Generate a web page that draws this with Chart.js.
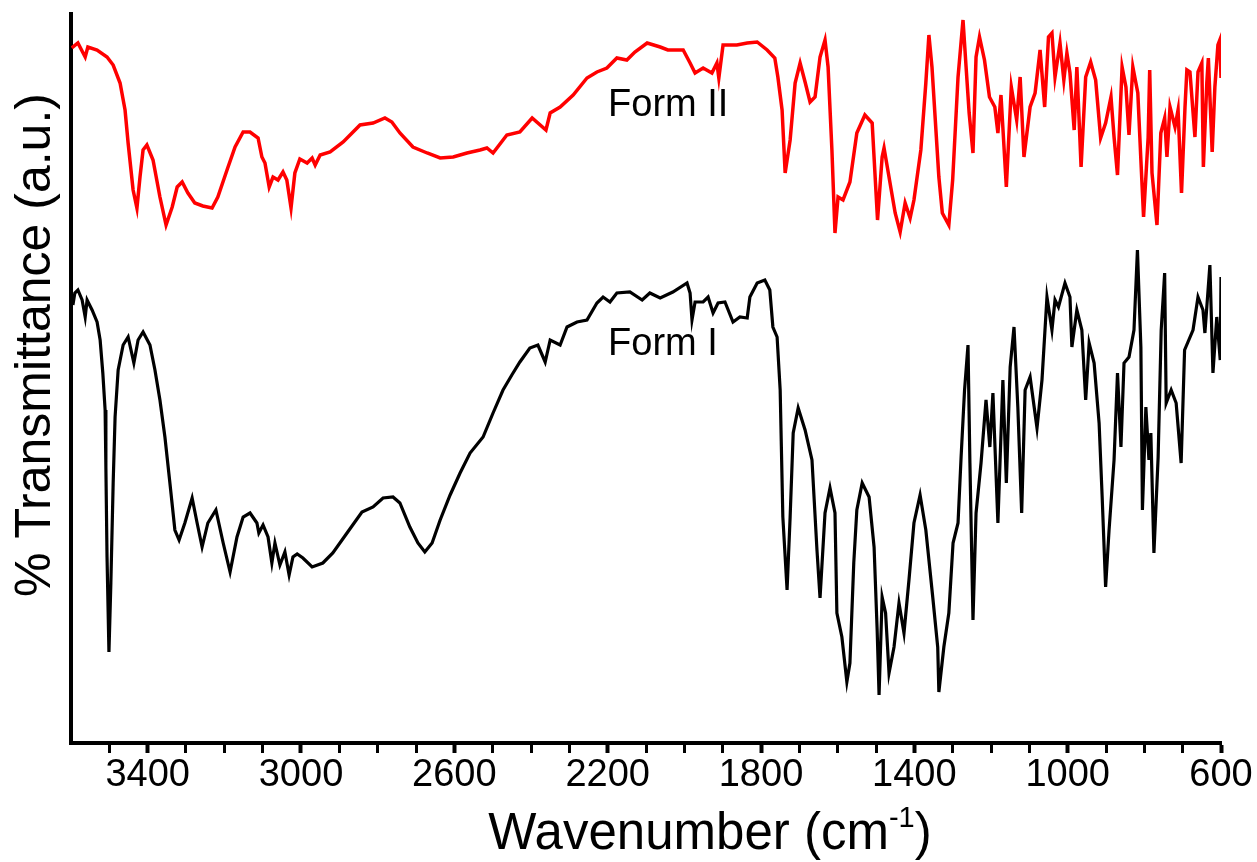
<!DOCTYPE html>
<html>
<head>
<meta charset="utf-8">
<script src="https://cdn.jsdelivr.net/npm/chart.js@4.4.1/dist/chart.umd.min.js"></script>
<style>
  html, body { margin: 0; padding: 0; background: #fff; }
</style>
</head>
<body>
<canvas id="ftirChart" width="1257" height="862"></canvas>
<script>
/* ─── DATA ────────────────────────────────────────────────── */
// Form II (red), wavenumber (cm-1) and transmittance (a.u.)
const form2Wn = [
  3598,3582,3563,3556,3532,3506,3490,3472,3459,3451,3438,3428,3420,3412,3402,3386,3368,3352,3336,3323,
  3310,3295,3277,3256,3232,3217,3193,3172,3151,3133,3112,3102,3094,3083,3073,3060,3047,3037,3026,3016,
  3003,2984,2971,2963,2950,2924,2890,2846,2812,2781,2763,2742,2708,2671,2637,2603,2567,2533,2515,2499,
  2463,2429,2397,2361,2350,2324,2290,2254,2228,2202,2176,2150,2129,2097,2063,2043,2003,1985,1972,1951,
  1928,1915,1910,1899,1863,1836,1810,1784,1764,1756,1745,1737,1724,1711,1698,1685,1672,1659,1646,1633,
  1625,1615,1607,1599,1586,1568,1550,1529,1510,1496,1484,1479,1450,1437,1424,1411,1401,1383,1370,1362,
  1354,1336,1327,1310,1300,1286,1273,1265,1257,1247,1239,1230,1217,1204,1190,1182,1174,1160,1147,1133,
  1124,1114,1098,1085,1072,1060,1050,1041,1033,1020,1010,1002,994,983,976,965,953,940,927,914,
  901,887,879,870,858,848,840,830,817,809,802,790,786,780,767,757,747,741,733,720,
  712,703,694,689,681,668,660,650,646,637,633,623,616,608,603,600
];
const form2T = [
  695,700,686,696,693,686,678,660,633,600,553,535,566,593,598,583,546,518,536,556,
  561,550,540,537,535,546,573,596,611,611,605,586,580,556,566,563,571,563,535,570,
  584,580,585,578,588,591,601,618,620,625,621,610,596,590,585,586,590,593,595,590,
  608,611,625,613,630,636,648,665,671,675,685,683,691,700,696,693,693,680,670,675,
  670,680,665,698,698,700,701,693,685,666,633,570,603,660,680,661,641,646,686,703,
  676,593,510,546,543,561,610,628,620,523,586,595,530,511,540,525,543,593,660,708,
  676,566,530,518,563,666,723,676,630,590,686,706,683,646,636,610,648,556,656,623,
  666,586,636,650,693,636,706,710,666,700,663,690,670,613,676,576,666,681,663,605,
  620,646,606,568,676,656,608,676,650,583,526,606,673,570,518,610,625,586,636,616,
  633,550,635,673,671,606,671,680,576,660,685,591,656,698,703,665
];

// Form I (black)
const form1Wn = [
  3595,3590,3582,3571,3563,3558,3545,3532,3524,3517,3511,3509,3506,3501,3496,3490,3485,3477,3464,3451,
  3436,3425,3412,3394,3381,3368,3355,3342,3329,3318,3303,3284,3271,3258,3243,3222,3203,3185,3167,3151,
  3133,3115,3110,3099,3086,3076,3068,3055,3042,3031,3021,3010,2995,2971,2943,2917,2880,2841,2812,2786,
  2760,2742,2716,2695,2677,2658,2637,2611,2585,2559,2525,2499,2473,2450,2429,2403,2382,2363,2350,2324,
  2306,2280,2254,2228,2212,2194,2176,2142,2110,2090,2063,2030,1993,1985,1980,1972,1951,1938,1925,1912,
  1894,1873,1855,1836,1829,1810,1790,1777,1769,1758,1750,1743,1732,1724,1716,1703,1685,1667,1654,1646,
  1633,1620,1607,1602,1589,1576,1568,1558,1550,1536,1518,1505,1497,1492,1484,1475,1466,1453,1440,1427,
  1414,1401,1385,1370,1352,1339,1336,1323,1310,1299,1286,1278,1269,1260,1255,1247,1239,1226,1213,1203,
  1195,1182,1169,1160,1150,1140,1130,1120,1111,1098,1080,1067,1054,1041,1033,1024,1007,994,989,976,
  963,953,944,931,918,910,901,892,879,870,861,853,840,827,818,809,805,796,788,783,
  775,764,756,747,743,730,717,704,695,673,660,647,642,629,621,611,602,600
];
const form1T = [
  438,450,453,443,426,443,433,421,403,370,333,276,186,91,160,260,326,373,398,406,
  380,403,411,398,373,343,306,260,213,203,220,245,220,196,220,233,200,171,206,226,
  230,220,210,218,206,180,200,178,191,168,186,189,185,176,180,190,210,231,236,245,
  246,240,216,200,191,200,223,248,270,290,306,330,353,368,381,395,398,381,403,398,
  416,421,423,440,446,441,450,451,443,450,445,451,460,450,423,441,441,446,430,440,
  441,421,426,425,446,460,463,453,416,406,353,226,153,226,310,335,313,283,193,145,
  230,255,230,130,106,61,80,180,233,260,246,196,113,48,146,130,70,96,140,110,
  163,220,248,213,146,96,51,96,130,200,220,286,353,398,280,123,230,280,343,296,
  350,220,363,260,376,416,336,230,353,366,315,363,446,413,443,436,460,446,396,433,
  413,343,400,380,320,246,156,213,283,370,296,380,386,413,493,396,233,336,283,310,
  190,286,413,470,340,353,340,280,393,413,446,433,410,478,370,426,383,466
];

// Axis ticks and annotations
const xMin = 600;
const xMax = 3600;
const xLabelTicks = [3400, 3000, 2600, 2200, 1800, 1400, 1000, 600];
const yMax = 729;
const formLabels = ['Form II', 'Form I'];
const formLabelWn = [2199, 2199];
const formLabelT = [627, 388];

/* ─── CHART SETUP ─────────────────────────────────────────── */
const FONT = '"Liberation Sans", Arial, Helvetica, sans-serif';
const toPoints = (wn, t) => wn.map((w, i) => ({ x: w, y: t[i] }));

const textPlugin = {
  id: 'ftirText',
  afterDraw(chart) {
    const { ctx, scales: { x, y } } = chart;
    ctx.save();
    ctx.fillStyle = '#000';
    ctx.textBaseline = 'alphabetic';

    // form labels
    ctx.font = `38px ${FONT}`;
    ctx.textAlign = 'left';
    formLabels.forEach((t, i) => {
      ctx.fillText(t, x.getPixelForValue(formLabelWn[i]), y.getPixelForValue(formLabelT[i]));
    });

    // x title with superscript
    const big = `51px ${FONT}`, small = `29px ${FONT}`;
    ctx.font = big;
    const w1 = ctx.measureText('Wavenumber (cm').width;
    const w3 = ctx.measureText(')').width;
    ctx.font = small;
    const w2 = ctx.measureText('-1').width;
    let tx = 710 - (w1 + w2 + w3) / 2;
    const base = 849;
    ctx.font = big;
    ctx.fillText('Wavenumber (cm', tx, base);
    tx += w1;
    ctx.font = small;
    ctx.fillText('-1', tx, base - 22);
    tx += w2;
    ctx.font = big;
    ctx.fillText(')', tx, base);

    // y title
    ctx.font = `50px ${FONT}`;
    ctx.translate(50, 345);
    ctx.rotate(-Math.PI / 2);
    ctx.textAlign = 'center';
    ctx.fillText('% Transmittance (a.u.)', 0, 0);
    ctx.restore();
  }
};

const ctx = document.getElementById('ftirChart').getContext('2d');

new Chart(ctx, {
  type: 'line',
  data: {
    datasets: [
      {
        label: 'Form II',
        data: toPoints(form2Wn, form2T),
        borderColor: '#ff0000',
        borderWidth: 3.5,
        pointRadius: 0,
        tension: 0,
        fill: false,
      },
      {
        label: 'Form I',
        data: toPoints(form1Wn, form1T),
        borderColor: '#000000',
        borderWidth: 3.2,
        pointRadius: 0,
        tension: 0,
        fill: false,
      },
    ],
  },
  options: {
    responsive: false,
    animation: false,
    events: [],
    layout: { padding: { top: 14, right: 36, left: 0, bottom: 0 } },
    plugins: {
      legend: { display: false },
      tooltip: { enabled: false },
    },
    scales: {
      x: {
        type: 'linear',
        reverse: true,
        min: xMin,
        max: xMax,
        afterFit: s => { s.height = 119; },
        grid: {
          drawOnChartArea: false,
          drawTicks: true,
          tickLength: 10,
          tickColor: c => (c.tick && c.tick.value === xMax ? 'rgba(0,0,0,0)' : '#000'),
          tickWidth: c => (c.tick && xLabelTicks.includes(c.tick.value) ? 4 : 3),
        },
        border: { display: true, color: '#000', width: 4 },
        ticks: {
          stepSize: 100,
          autoSkip: false,
          maxRotation: 0,
          minRotation: 0,
          padding: 0,
          color: '#000',
          font: { family: FONT, size: 38 },
          callback: v => (xLabelTicks.includes(v) ? String(v) : ''),
        },
      },
      y: {
        min: 0,
        max: yMax,
        afterFit: s => { s.width = 71; },
        grid: { display: false },
        border: { display: true, color: '#000', width: 4 },
        ticks: { display: false },
      },
    },
  },
  plugins: [textPlugin],
});
</script>
</body>
</html>
